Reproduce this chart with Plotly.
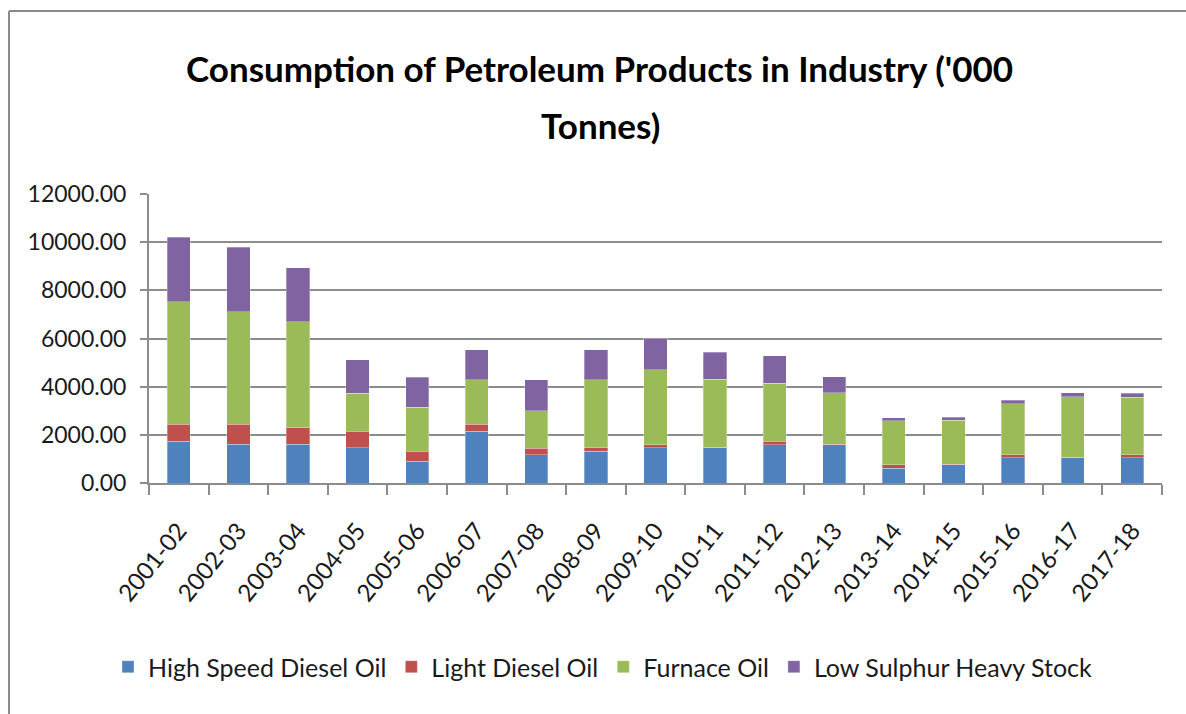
import plotly.graph_objects as go

# Financial years on the category axis
years = ["2001-02", "2002-03", "2003-04", "2004-05", "2005-06", "2006-07",
         "2007-08", "2008-09", "2009-10", "2010-11", "2011-12", "2012-13",
         "2013-14", "2014-15", "2015-16", "2016-17", "2017-18"]

# Consumption by product ('000 tonnes)
high_speed_diesel = [1730, 1600, 1600, 1460, 900, 2150, 1180, 1320, 1460, 1460,
                     1580, 1580, 620, 750, 1040, 1040, 1040]
light_diesel = [700, 830, 690, 690, 420, 280, 260, 140, 120, 20,
                150, 20, 130, 20, 130, 20, 130]
furnace_oil = [5100, 4690, 4400, 1580, 1830, 1860, 1570, 2830, 3120, 2830,
               2420, 2150, 1840, 1840, 2120, 2530, 2400]
low_sulphur_heavy_stock = [2670, 2660, 2240, 1390, 1250, 1250, 1280, 1250, 1320, 1120,
                           1140, 670, 120, 120, 140, 160, 160]

y_ticks = [0, 2000, 4000, 6000, 8000, 10000, 12000]

series = [
    ("High Speed Diesel Oil", high_speed_diesel, "#4F81BD"),
    ("Light Diesel Oil", light_diesel, "#C0504D"),
    ("Furnace Oil", furnace_oil, "#9BBB59"),
    ("Low Sulphur Heavy Stock", low_sulphur_heavy_stock, "#8064A2"),
]

W, H = 1186, 714
ML, MR, MT, MB = 149, 24, 194, 231
PW, PH = W - ML - MR, H - MT - MB

def px_x(px):
    return (px - ML) / PW

def px_y(py):
    return (H - MB - py) / PH

FONT = "Lato, 'Open Sans', sans-serif"
TITLE_FONT = "Lato, 'Open Sans', sans-serif"
GRID = "#8c8c8c"

fig = go.Figure()
for name, vals, col in series:
    fig.add_trace(go.Bar(
        name=name, x=years, y=vals,
        marker=dict(color=col, line=dict(color="rgba(255,255,255,0.5)", width=0.6)),
    ))

fig.update_layout(
    width=W, height=H,
    barmode="stack", bargap=0.61,
    paper_bgcolor="white", plot_bgcolor="white",
    margin=dict(l=ML, r=MR, t=MT, b=MB),
    font=dict(family=FONT, size=20, color="#1a1a1a"),
    showlegend=True,
    legend=dict(
        orientation="h", x=px_x(603), xanchor="center",
        y=px_y(667), yanchor="middle",
        font=dict(family=FONT, size=25, color="#1a1a1a"),
        itemwidth=30, tracegroupgap=0, traceorder="normal",
    ),
    xaxis=dict(
        type="category", tickangle=-51, tickson="boundaries",
        ticks="outside", ticklen=10, tickcolor=GRID, tickwidth=2,
        showline=True, linecolor=GRID, linewidth=2,
        ticklabelstandoff=22,
        showgrid=False, tickfont=dict(family=FONT, size=24, color="#1a1a1a"),
    ),
    yaxis=dict(
        range=[0, 12000], tickvals=y_ticks, tickformat=".2f",
        ticks="outside", ticklen=7, tickcolor=GRID, tickwidth=2,
        showline=True, linecolor=GRID, linewidth=2,
        showgrid=True, gridcolor=GRID, gridwidth=2,
        ticklabelstandoff=9, zeroline=False,
        tickfont=dict(family=FONT, size=23, color="#1a1a1a"),
    ),
    annotations=[
        dict(text="<b>Consumption of Petroleum Products in Industry ('000</b>",
             x=px_x(599), y=px_y(68), xref="paper", yref="paper",
             xanchor="center", yanchor="middle", showarrow=False,
             font=dict(family=TITLE_FONT, size=35, color="black")),
        dict(text="<b>Tonnes)</b>",
             x=px_x(600), y=px_y(125), xref="paper", yref="paper",
             xanchor="center", yanchor="middle", showarrow=False,
             font=dict(family=TITLE_FONT, size=35, color="black")),
    ],
    shapes=[
        dict(type="line", xref="paper", yref="paper",
             x0=px_x(9), x1=px_x(W + 5), y0=px_y(11), y1=px_y(11),
             line=dict(color="#8a8a8a", width=2)),
        dict(type="line", xref="paper", yref="paper",
             x0=px_x(9), x1=px_x(9), y0=px_y(11), y1=px_y(H + 5),
             line=dict(color="#8a8a8a", width=2)),
    ],
)

fig.write_html("out.html")
